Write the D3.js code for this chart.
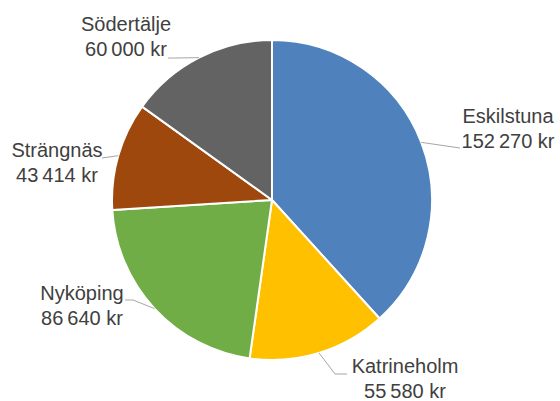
<!DOCTYPE html>
<html>
<head>
<meta charset="utf-8">
<script src="https://cdn.jsdelivr.net/npm/d3@7"></script>
<style>
  html, body { margin: 0; padding: 0; background: #fff; }
  svg { display: block; }
  .lbl { font-family: "Liberation Sans", Arial, sans-serif; font-size: 20px; fill: #404040; }
</style>
</head>
<body>
<svg id="chart" width="560" height="401"></svg>
<script>
// Data
var cities = ['Eskilstuna', 'Katrineholm', 'Nyköping', 'Strängnäs', 'Södertälje'];
var amounts = [152270, 55580, 86640, 43414, 60000];
var colors = ['#4F81BD', '#FFC000', '#70AD47', '#9E480E', '#636363'];

// Label layout (text centre, first baseline, leader points on the label side)
var labelLayout = [
  { x: 508, y: 123, leader: [[460, 148]] },
  { x: 405, y: 373, leader: [[335, 374], [347, 374]] },
  { x: 82,  y: 300, leader: [[133, 300], [125, 300]] },
  { x: 57,  y: 157, leader: [[102, 158]] },
  { x: 126, y: 31,  leader: [[176, 58], [168, 58]] }
];

var cx = 272, cy = 200, radius = 160;
var lineGap = 25;

function fmt(v) {
  // Swedish thousands separator: narrow space
  return d3.format(',')(v).replace(/,/g, '\u2009') + ' kr';
}

var svg = d3.select('#chart');
var g = svg.append('g').attr('transform', 'translate(' + cx + ',' + cy + ')');

var pie = d3.pie().sort(null).value(function (d) { return d; });
var arcs = pie(amounts);
var arc = d3.arc().innerRadius(0).outerRadius(radius);

g.selectAll('path.slice')
  .data(arcs)
  .join('path')
  .attr('class', 'slice')
  .attr('d', arc)
  .attr('fill', function (d, i) { return colors[i]; })
  .attr('stroke', '#fff')
  .attr('stroke-width', 2)
  .attr('stroke-linejoin', 'round');

// Leader lines
arcs.forEach(function (d, i) {
  var mid = (d.startAngle + d.endAngle) / 2;
  var px = cx + radius * Math.sin(mid);
  var py = cy - radius * Math.cos(mid);
  var pts = [[px, py]].concat(labelLayout[i].leader);
  svg.append('path')
    .attr('d', d3.line()(pts))
    .attr('fill', 'none')
    .attr('stroke', '#A6A6A6')
    .attr('stroke-width', 1);
});

// Labels
cities.forEach(function (name, i) {
  var L = labelLayout[i];
  var t = svg.append('text')
    .attr('class', 'lbl')
    .attr('text-anchor', 'middle');
  t.append('tspan').attr('x', L.x).attr('y', L.y).text(name);
  t.append('tspan').attr('x', L.x).attr('y', L.y + lineGap).text(fmt(amounts[i]));
});
</script>
</body>
</html>
